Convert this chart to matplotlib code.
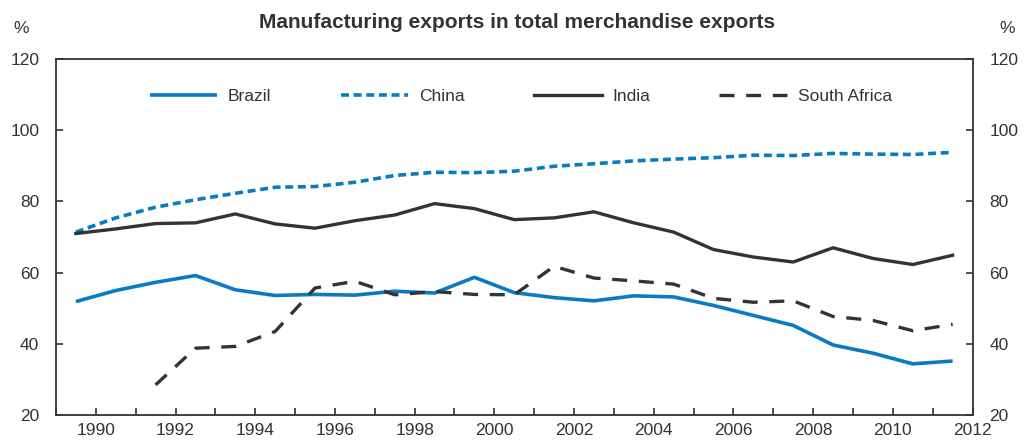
import numpy as np
import matplotlib.pyplot as plt
from matplotlib.ticker import MultipleLocator

plt.rcParams['font.family'] = ['Liberation Sans Narrow', 'Liberation Sans', 'DejaVu Sans']

# data years (plotted at mid-year)
years = np.arange(1989, 2012)

brazil = [51.9, 55.0, 57.3, 59.2, 55.2, 53.6, 53.9, 53.7, 54.8, 54.3, 58.7, 54.4,
          53.0, 52.1, 53.5, 53.2, 50.8, 48.0, 45.2, 39.7, 37.4, 34.4, 35.2]
china = [71.4, 75.4, 78.4, 80.5, 82.3, 84.0, 84.2, 85.4, 87.3, 88.2, 88.1, 88.5,
         89.9, 90.6, 91.4, 91.9, 92.3, 93.0, 92.9, 93.5, 93.3, 93.2, 93.8]
india = [71.0, 72.3, 73.8, 74.0, 76.5, 73.7, 72.5, 74.6, 76.2, 79.4, 78.0, 74.9,
         75.4, 77.1, 74.0, 71.4, 66.5, 64.4, 63.0, 67.0, 64.0, 62.3, 64.9]
south_africa = [np.nan, np.nan, 28.5, 38.8, 39.3, 43.5, 55.7, 57.6, 53.8, 54.7, 53.9, 53.8,
                61.8, 58.5, 57.7, 56.8, 52.8, 51.7, 52.1, 47.7, 46.6, 43.7, 45.5]

xticks = np.arange(1990, 2013, 2)
yticks = [20, 40, 60, 80, 100, 120]

blue = '#0a7bc2'
dark = '#333333'

fig = plt.figure(figsize=(10.27, 4.44), dpi=100)
ax = fig.add_axes([0.0545, 0.065, 0.8925, 0.802])

x = years + 0.5
ax.plot(x, brazil, color=blue, lw=2.6, label='Brazil', solid_capstyle='butt')
ax.plot(x, china, color=blue, lw=2.6, ls=(0, (2.2, 1.3)), label='China')
ax.plot(x, india, color=dark, lw=2.4, label='India')
ax.plot(x, south_africa, color=dark, lw=2.4, ls=(0, (4.5, 3.5)), label='South Africa')

ax.set_xlim(1989, 2012)
ax.set_ylim(20, 120)
ax.set_xticks(xticks)
ax.xaxis.set_minor_locator(MultipleLocator(1))
ax.set_yticks(yticks)

for s in ax.spines.values():
    s.set_color(dark)
    s.set_linewidth(1.3)

ax.tick_params(axis='x', which='both', direction='in', length=5, width=1.2,
               color=dark, labelcolor=dark, labelsize=12.5, pad=6)
ax.tick_params(axis='y', direction='in', length=5, width=1.2, color=dark,
               labelcolor=dark, labelsize=12.5, pad=12, right=True, labelright=True)

ax.text(-0.038, 1.085, '%', transform=ax.transAxes, fontsize=12.5, color=dark,
        ha='center', va='center')
ax.text(1.038, 1.085, '%', transform=ax.transAxes, fontsize=12.5, color=dark,
        ha='center', va='center')

fig.text(0.503, 0.95, 'Manufacturing exports in total merchandise exports',
         fontsize=15, fontweight='bold', color=dark, ha='center', va='center')

leg = ax.legend(loc='upper center', bbox_to_anchor=(0.507, 0.96), ncol=4, frameon=False,
                handlelength=3.9, columnspacing=4.0, handletextpad=0.6, fontsize=12.5)
for t in leg.get_texts():
    t.set_color(dark)

fig.savefig('out.png', dpi=100)
